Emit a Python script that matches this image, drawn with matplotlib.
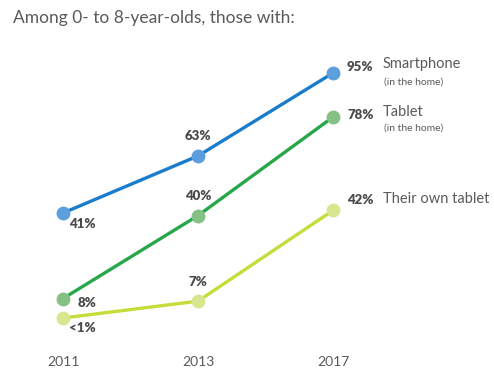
import matplotlib
matplotlib.use("Agg")
import matplotlib.pyplot as plt

plt.rcParams["font.family"] = ["Lato", "DejaVu Sans"]

years = ["2011", "2013", "2017"]
smartphone = [41, 63, 95]
tablet = [8, 40, 78]
own_tablet = [0.5, 7, 42]
smart_labels = ["41%", "63%", "95%"]
tab_labels = ["8%", "40%", "78%"]
own_labels = ["<1%", "7%", "42%"]

x = range(len(years))

fig = plt.figure(figsize=(4.94, 3.73), dpi=100)
ax = fig.add_axes([0, 0, 1, 1])
ax.set_xlim(-63 / 135, (494 - 63) / 135)
ax.set_ylim((319.3 - 373) / 2.593, 319.3 / 2.593)
ax.axis("off")

series = [
    (smartphone, "#1a7ccc", "#5d9fdc", smart_labels),
    (tablet, "#27a64a", "#85c184", tab_labels),
    (own_tablet, "#c6dc3a", "#d8e78f", own_labels),
]
for vals, lc, mc, labs in series:
    ax.plot(x, vals, color=lc, lw=2.4, zorder=2, solid_capstyle="round")
    ax.plot(x, vals, "o", color=mc, ms=10, mec="none", zorder=3)

pct = dict(fontsize=9.5, fontweight="heavy", color="#4a4a4a",
           textcoords="offset pixels")
# first-point labels: below right
ax.annotate(smart_labels[0], (0, smartphone[0]), xytext=(19, -11), ha="center", va="center", **pct)
ax.annotate(tab_labels[0], (0, tablet[0]), xytext=(24, -4), ha="center", va="center", **pct)
ax.annotate(own_labels[0], (0, own_tablet[0]), xytext=(19, -10), ha="center", va="center", **pct)
# middle labels: above
ax.annotate(smart_labels[1], (1, smartphone[1]), xytext=(0, 20), ha="center", va="center", **pct)
ax.annotate(tab_labels[1], (1, tablet[1]), xytext=(0, 20), ha="center", va="center", **pct)
ax.annotate(own_labels[1], (1, own_tablet[1]), xytext=(0, 19), ha="center", va="center", **pct)
# end labels
ax.annotate(smart_labels[2], (2, smartphone[2]), xytext=(14, 6), ha="left", va="center", **pct)
ax.annotate(tab_labels[2], (2, tablet[2]), xytext=(14, 2), ha="left", va="center", **pct)
ax.annotate(own_labels[2], (2, own_tablet[2]), xytext=(14, 10), ha="left", va="center", **pct)

name = dict(fontsize=10.5, color="#5a5a5a", textcoords="offset pixels", ha="left", va="center")
small = dict(fontsize=7.5, color="#5a5a5a", textcoords="offset pixels", ha="left", va="center")
ax.annotate("Smartphone", (2, smartphone[2]), xytext=(50, 9), **name)
ax.annotate("(in the home)", (2, smartphone[2]), xytext=(51, -9), **small)
ax.annotate("Tablet", (2, tablet[2]), xytext=(50, 5), **name)
ax.annotate("(in the home)", (2, tablet[2]), xytext=(51, -11), **small)
ax.annotate("Their own tablet", (2, own_tablet[2]), xytext=(50, 11), **name)

for i, yr in enumerate(years):
    ax.text(i, (319.3 - 362) / 2.593, yr, ha="center", va="center",
            fontsize=10, color="#5a5a5a")

fig.text(13 / 494, 1 - 18 / 373, "Among 0- to 8-year-olds, those with:",
         ha="left", va="center", fontsize=12.5, color="#5a5a5a")

fig.savefig("out.png", dpi=100)
